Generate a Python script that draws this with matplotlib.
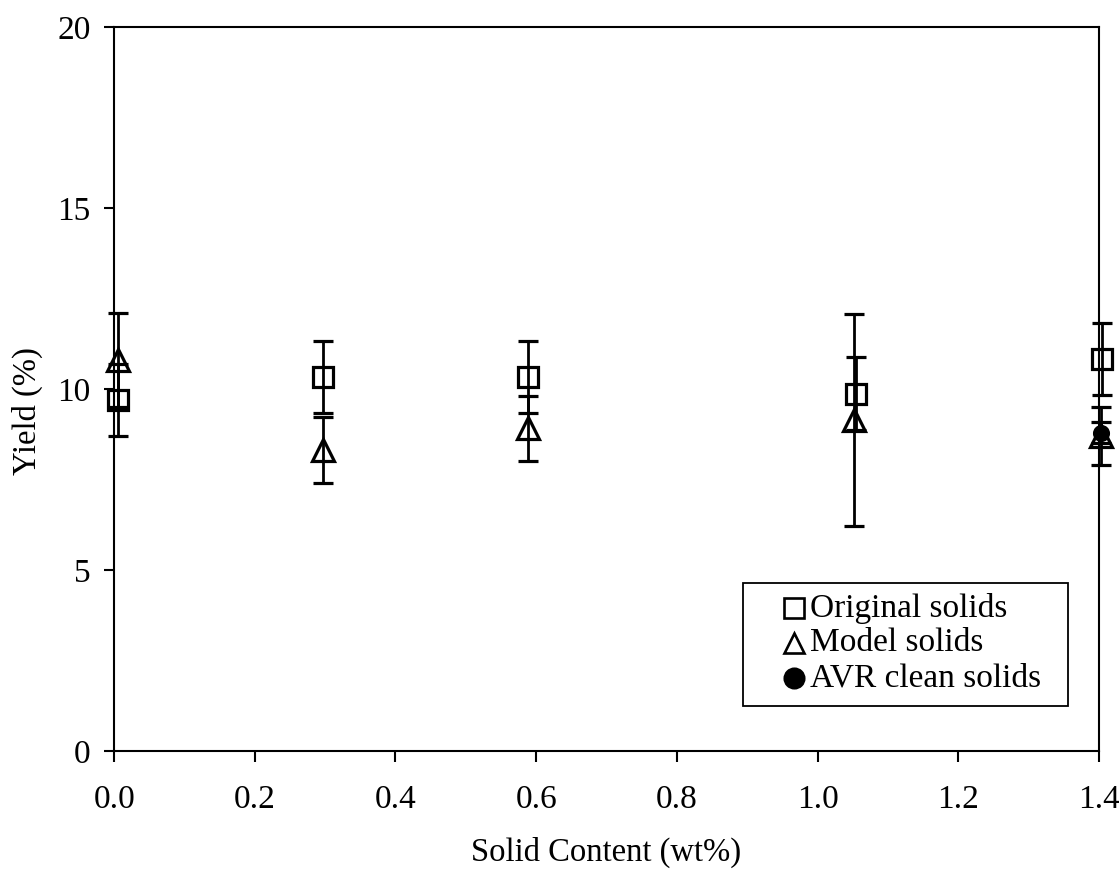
import matplotlib
matplotlib.use("Agg")
import matplotlib.pyplot as plt
from matplotlib.lines import Line2D
from matplotlib.patches import Rectangle

# Data
orig_x = [0.005, 0.297, 0.588, 1.055, 1.405]
orig_y = [9.7, 10.33, 10.33, 9.88, 10.83]
orig_err = [1.0, 1.0, 1.0, 1.0, 1.0]

model_x = [0.005, 0.297, 0.588, 1.052, 1.403]
model_y = [10.8, 8.31, 8.92, 9.14, 8.7]
model_err = [1.3, 0.91, 0.9, 2.93, 0.8]

avr_x = [1.403]
avr_y = [8.8]
avr_err = [0.3]

xticks = [0.0, 0.2, 0.4, 0.6, 0.8, 1.0, 1.2, 1.4]
yticks = [0, 5, 10, 15, 20]
legend_labels = ["Original solids", "Model solids", "AVR clean solids"]

plt.rcParams['font.family'] = ['Liberation Serif', 'DejaVu Serif']

fig = plt.figure(figsize=(11.19, 8.73), dpi=100)
ax = fig.add_axes([0.102, 0.1397, 0.880, 0.829])

common = dict(color='black', ecolor='black', elinewidth=2.0, capsize=7,
              capthick=2.8, linestyle='none', markeredgewidth=2.3)
series = [
    (orig_x, orig_y, orig_err, dict(marker='s', markersize=15, markerfacecolor='none')),
    (model_x, model_y, model_err, dict(marker='^', markersize=16, markerfacecolor='none')),
    (avr_x, avr_y, avr_err, dict(marker='o', markersize=10, markerfacecolor='black')),
]
for xs, ys, es, kw in series:
    cont = ax.errorbar(xs, ys, yerr=es, markeredgecolor='black', **kw, **common)
    for art in cont.lines[:1] + tuple(cont.lines[1]) + tuple(cont.lines[2]):
        art.set_clip_on(False)

ax.set_xlim(0, 1.4)
ax.set_ylim(0, 20)
ax.set_xticks(xticks)
ax.set_xticklabels([f"{v:.1f}" for v in xticks])
ax.set_yticks(yticks)
ax.set_yticklabels([str(v) for v in yticks])
ax.tick_params(axis='both', direction='out', labelsize=24, width=1.5,
               color='black')
ax.tick_params(axis='x', length=8, pad=16)
ax.tick_params(axis='y', length=7, pad=10)
for s in ax.spines.values():
    s.set_linewidth(1.5)
    s.set_color('black')

ax.set_xlabel("Solid Content (wt%)", fontsize=23.5, labelpad=16)
ax.set_ylabel("Yield (%)", fontsize=23.5)
ax.yaxis.set_label_coords(-0.072, 0.47)

# Manual legend (box, marker glyphs, labels) in axes coordinates
box = Rectangle((0.6386, 0.0622), 0.9685 - 0.6386, 0.232 - 0.0622,
                transform=ax.transAxes, facecolor='white', edgecolor='black',
                linewidth=1.3, zorder=5)
ax.add_patch(box)
leg_markers = [dict(marker='s', markersize=14, markerfacecolor='none'),
               dict(marker='^', markersize=15, markerfacecolor='none'),
               dict(marker='o', markersize=14, markerfacecolor='black')]
row_y = [0.1975, 0.149, 0.1008]
for ry, mk, lab in zip(row_y, leg_markers, legend_labels):
    ax.add_line(Line2D([0.690], [ry], transform=ax.transAxes, linestyle='none',
                       markeredgecolor='black', markeredgewidth=1.9, zorder=6, **mk))
    ax.text(0.7066, ry, lab, transform=ax.transAxes, fontsize=24,
            va='center', ha='left', zorder=6)

fig.savefig("out.png", dpi=100, facecolor='white')
